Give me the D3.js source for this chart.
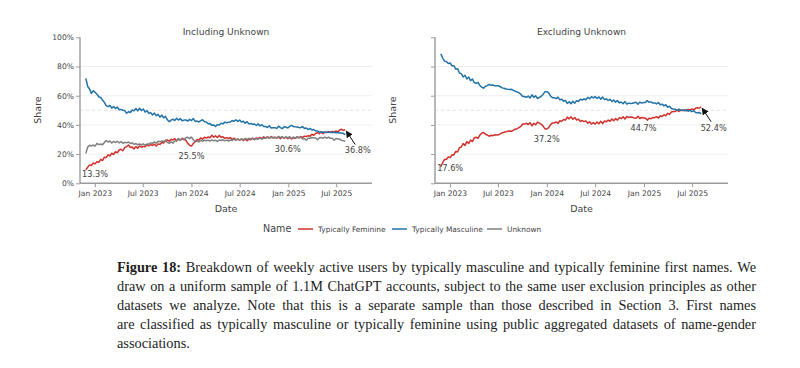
<!DOCTYPE html>
<html><head><meta charset="utf-8">
<script src="https://cdn.jsdelivr.net/npm/d3@7"></script>
<style>body{margin:0;background:#fff}</style>
</head><body>
<svg id="c" width="800" height="368"></svg>
<script>
// ---------- DATA (weekly shares, %) ----------
const firstWeek = "2022-11-28";
const feminine = [
 9.2,11.0,12.6,12.2,13.9,13.3,14.8,14.3,16.4,15.6,
 17.9,17.6,19.6,18.7,20.6,19.7,21.6,20.9,22.8,23.3,
 22.3,24.6,25.0,26.2,24.5,24.8,23.6,25.1,24.0,25.6,
 24.7,25.3,25.0,26.4,25.7,26.5,25.9,26.8,25.6,27.0,
 26.6,27.9,27.6,29.3,29.7,28.8,30.2,29.6,30.6,29.0,
 30.2,29.7,30.9,30.3,29.4,27.4,26.0,25.5,27.3,28.5,
 30.0,29.6,31.1,30.2,31.6,31.0,31.7,31.2,32.9,31.6,
 32.5,31.4,32.8,31.5,31.9,30.8,31.3,30.6,31.4,30.0,
 30.9,29.8,30.1,29.6,30.3,29.3,30.4,29.2,30.3,29.8,
 30.9,30.0,31.1,30.6,31.4,30.6,31.8,30.9,31.9,31.0,
 32.0,31.2,31.6,31.0,31.7,30.6,31.7,30.9,31.6,30.6,
 31.5,30.3,31.2,30.7,31.6,31.2,32.0,31.4,32.3,32.0,
 32.6,32.3,33.6,32.9,34.1,34.7,34.0,35.2,34.0,35.1,
 34.8,35.3,34.7,35.6,35.0,35.9,35.2,36.5,37.0,36.2,36.8
];
const masculine = [
 71.9,66.4,64.6,61.6,63.4,62.3,61.0,59.3,58.8,57.0,
 55.4,53.2,52.5,53.3,51.5,52.6,51.2,52.2,50.4,50.6,
 50.0,49.8,48.0,49.0,48.5,50.2,49.6,51.2,49.6,51.4,
 49.9,50.9,48.8,49.8,47.9,48.4,46.8,48.1,46.3,47.2,
 45.3,46.7,44.8,45.9,43.5,42.2,43.3,43.9,43.0,44.6,
 43.3,44.4,42.8,43.3,43.4,42.6,43.8,43.0,44.3,42.4,
 42.6,42.0,42.9,43.5,42.2,42.0,40.8,40.9,39.7,40.0,
 38.9,40.2,39.9,41.1,40.7,41.9,41.5,41.8,42.0,42.9,
 42.5,43.5,42.4,43.3,42.0,42.5,41.2,42.2,40.7,40.9,
 40.5,40.6,39.6,40.7,39.3,40.1,38.9,38.9,38.2,39.4,
 37.9,38.0,38.1,37.6,39.1,38.2,37.4,38.7,38.5,37.9,
 39.0,39.7,38.9,38.7,38.6,38.2,38.1,38.9,37.6,37.9,
 36.8,37.6,36.5,36.8,35.8,35.9,35.1,35.0,35.1,34.8,
 35.0,34.9,35.2,34.7,34.9,34.6,34.8,34.4,34.5,34.1,33.4
];
const unknown = [
 20.5,24.8,26.0,25.6,26.2,25.4,27.4,26.5,26.9,26.4,
 28.0,29.2,28.3,28.9,27.6,28.7,27.9,28.8,27.7,28.6,
 27.4,28.1,27.7,28.3,27.3,27.7,26.7,27.2,26.4,26.9,
 26.3,27.0,26.1,26.9,27.0,27.7,27.4,28.4,27.5,28.8,
 28.4,29.0,28.5,29.4,28.0,27.4,28.3,27.5,28.9,29.4,
 30.6,29.6,30.5,29.8,31.2,31.5,30.6,31.6,29.8,28.5,
 29.1,28.3,29.5,28.7,29.5,29.1,29.6,28.9,29.7,29.1,
 29.5,28.7,29.6,29.3,29.8,29.1,29.6,29.0,29.6,29.3,
 30.2,29.5,30.4,29.6,30.4,29.8,30.8,30.1,30.8,30.4,
 30.8,30.0,30.5,30.2,31.1,30.3,31.0,30.8,31.7,30.9,
 31.6,31.2,31.4,31.1,32.1,31.3,31.9,31.0,31.8,31.1,
 31.9,30.8,31.7,31.0,31.9,31.2,31.6,30.4,30.6,29.5,
 30.8,30.9,31.4,31.1,31.0,29.8,31.2,31.3,30.9,31.7,
 30.9,31.7,30.8,30.9,29.5,30.7,30.4,30.3,29.4,29.2,28.7
];
const seriesNames = ["Typically Feminine","Typically Masculine","Unknown"];
const seriesColors = ["#d0312d","#2272a8","#7f7f7f"];
const yTicks = [0,20,40,60,80,100];
const gridTicks = [20,40,60,80];
const xTickDates = ["2023-01-01","2023-07-01","2024-01-01","2024-07-01","2025-01-01","2025-07-01"];
const xTickLabels = ["Jan 2023","Jul 2023","Jan 2024","Jul 2024","Jan 2025","Jul 2025"];
const xDomain = ["2022-11-06","2025-11-13"];
const annotWeeks = [5,57,109,140];
const annotLeftLabels = ["13.3%","25.5%","30.6%","36.8%"];
const annotRightLabels = ["17.6%","37.2%","44.7%","52.4%"];
const panelTitles = ["Including Unknown","Excluding Unknown"];
const captionLines = [
 "Figure 18: Breakdown of weekly active users by typically masculine and typically feminine first names. We",
 "draw on a uniform sample of 1.1M ChatGPT accounts, subject to the same user exclusion principles as other",
 "datasets we analyze.  Note that this is a separate sample than those described in Section 3.  First names",
 "are classified as typically masculine or typically feminine using public aggregated datasets of name-gender",
 "associations."
];

// ---------- derived ----------
const parse = d3.utcParse("%Y-%m-%d");
const t0 = parse(firstWeek);
const dates = feminine.map((_, i) => d3.utcDay.offset(t0, 7 * i));
// "Excluding Unknown": share among named accounts only
const femExcl = feminine.map((f, i) => 100 * f / (f + masculine[i]));
const mascExcl = masculine.map((m, i) => 100 * m / (feminine[i] + m));

const svg = d3.select("#c");
const FONT = "'DejaVu Sans', Verdana, sans-serif";
const y = d3.scaleLinear().domain([0, 100]).range([183.3, 37.3]);

const panels = [
  {x0: 80, x1: 372, series: [feminine, masculine, unknown], cols: [0,1,2], labels: annotLeftLabels, yLabels: true, title: panelTitles[0]},
  {x0: 435, x1: 728, series: [femExcl, mascExcl], cols: [0,1], labels: annotRightLabels, yLabels: false, title: panelTitles[1]}
];

const defs = svg.append("defs");
defs.append("marker").attr("id","arr").attr("viewBox","0 0 10 10").attr("refX",9).attr("refY",5)
  .attr("markerWidth",7).attr("markerHeight",7).attr("orient","auto-start-reverse")
  .attr("markerUnits","userSpaceOnUse")
  .append("path").attr("d","M0,0 L10,5 L0,10 z").attr("fill","#111");

panels.forEach(p => {
  const x = d3.scaleUtc().domain(xDomain.map(parse)).range([p.x0, p.x1]);
  const g = svg.append("g");
  // grid
  g.selectAll(".grid").data(gridTicks).join("line")
    .attr("x1", p.x0).attr("x2", p.x1).attr("y1", d => y(d)).attr("y2", d => y(d))
    .attr("stroke", "#efefef").attr("stroke-width", 1);
  g.append("line").attr("x1", p.x0).attr("x2", p.x1).attr("y1", y(50)).attr("y2", y(50))
    .attr("stroke", "#dddddd").attr("stroke-width", 0.8).attr("stroke-dasharray", "3,3");
  // axes
  const ya = d3.axisLeft(y).tickValues(yTicks).tickSize(4).tickPadding(2)
    .tickFormat(p.yLabels ? (d => d + "%") : (() => ""));
  const yg = g.append("g").attr("transform", `translate(${p.x0},0)`).call(ya);
  const xa = d3.axisBottom(x).tickValues(xTickDates.map(parse)).tickSize(4).tickPadding(3)
    .tickFormat((d, i) => xTickLabels[i]);
  const xg = g.append("g").attr("transform", `translate(0,${y(0)})`).call(xa);
  [yg, xg].forEach(a => {
    a.select(".domain").attr("stroke", "#9a9a9a").attr("stroke-width", 1.4);
    a.selectAll(".tick line").attr("stroke", "#9a9a9a").attr("stroke-width", 1);
    a.selectAll(".tick text").attr("fill", "#444").attr("font-size", 7.6).attr("font-family", FONT);
  });
  xg.select(".domain").attr("d", `M${p.x0},0H${p.x1}`);
  yg.select(".domain").attr("d", `M0,${y(100)}V${y(0)}`);
  // lines
  const line = d3.line().x((d, i) => x(dates[i])).y(d => y(d)).curve(d3.curveLinear);
  p.series.forEach((s, k) => {
    g.append("path").datum(s).attr("d", line).attr("fill", "none")
      .attr("stroke", seriesColors[p.cols[k]]).attr("stroke-width", 1.5).attr("stroke-linejoin", "round");
  });
  // annotations on feminine series
  const fem = p.series[0];
  annotWeeks.forEach((w, j) => {
    const px = x(dates[w]), py = y(fem[w]);
    const last = j === annotWeeks.length - 1;
    if (last) {
      g.append("line").attr("x1", px + 10).attr("y1", py + 15).attr("x2", px + 1).attr("y2", py + 1.5)
        .attr("stroke", "#111").attr("stroke-width", 1).attr("marker-end", "url(#arr)");
      g.append("text").attr("x", px + 12.5).attr("y", py + 21).attr("dy", "0.35em")
        .attr("text-anchor", "middle").attr("font-size", 8.2).attr("font-family", FONT)
        .attr("fill", "#444").text(p.labels[j]);
    } else {
      g.append("text").attr("x", px).attr("y", py + 10.5).attr("dy", "0.35em")
        .attr("text-anchor", "middle").attr("font-size", 8.2).attr("font-family", FONT)
        .attr("fill", "#444").text(p.labels[j]);
    }
  });
  // titles
  const cx = (p.x0 + p.x1) / 2;
  g.append("text").attr("x", cx).attr("y", 32).attr("dy", "0.35em").attr("text-anchor", "middle")
    .attr("font-size", 9.1).attr("font-family", FONT).attr("fill", "#444").text(p.title);
  g.append("text").attr("x", cx).attr("y", 209).attr("dy", "0.35em").attr("text-anchor", "middle")
    .attr("font-size", 9.5).attr("font-family", FONT).attr("fill", "#444").text("Date");
  g.append("text").attr("transform", `translate(${p.x0 - 42},110) rotate(-90)`).attr("dy", "0.35em")
    .attr("text-anchor", "middle").attr("font-size", 9.5).attr("font-family", FONT).attr("fill", "#444").text("Share");
});

// ---------- legend ----------
const lg = svg.append("g").attr("font-family", FONT).attr("fill", "#444");
lg.append("text").attr("x", 263).attr("y", 229).attr("dy", "0.35em").attr("font-size", 9.6).text("Name");
const legX = [298, 392, 487];
seriesNames.forEach((n, i) => {
  lg.append("line").attr("x1", legX[i]).attr("x2", legX[i] + 15).attr("y1", 229).attr("y2", 229)
    .attr("stroke", seriesColors[i]).attr("stroke-width", 1.5);
  lg.append("text").attr("x", legX[i] + 20).attr("y", 229).attr("dy", "0.35em").attr("font-size", 7.4).text(n);
});

// ---------- caption (justified) ----------
const capLeft = 117, capRight = 756, capBase = [272, 291, 310, 329, 347.5];
const CF = "'Liberation Serif','Times New Roman',serif";
const cap = svg.append("g").attr("font-family", CF).attr("fill", "#1e1e1e");
function natural(str, fs) {
  const t = cap.append("text").attr("font-size", fs).text(str.replace(/\s+/g, " "));
  const w = t.node().getComputedTextLength(); t.remove(); return w;
}
let maxW = d3.max(captionLines.slice(0, 4), s => natural(s, 15));
let fs = Math.max(13, Math.min(15.6, 15 * 0.975 * (capRight - capLeft) / maxW));
captionLines.forEach((s, li) => {
  const words = s.split(/\s+/);
  const nodes = words.map((w, wi) => {
    const bold = li === 0 && wi < 2;
    const t = cap.append("text").attr("y", capBase[li]).attr("font-size", fs)
      .attr("font-weight", bold ? "bold" : "normal").text(w);
    return {t, w: t.node().getComputedTextLength()};
  });
  const sum = d3.sum(nodes, d => d.w);
  const justify = li < captionLines.length - 1;
  const gap = justify ? (capRight - capLeft - sum) / (nodes.length - 1) : fs * 0.27;
  let cx = capLeft;
  nodes.forEach(d => { d.t.attr("x", cx); cx += d.w + gap; });
});
</script>
</body></html>
